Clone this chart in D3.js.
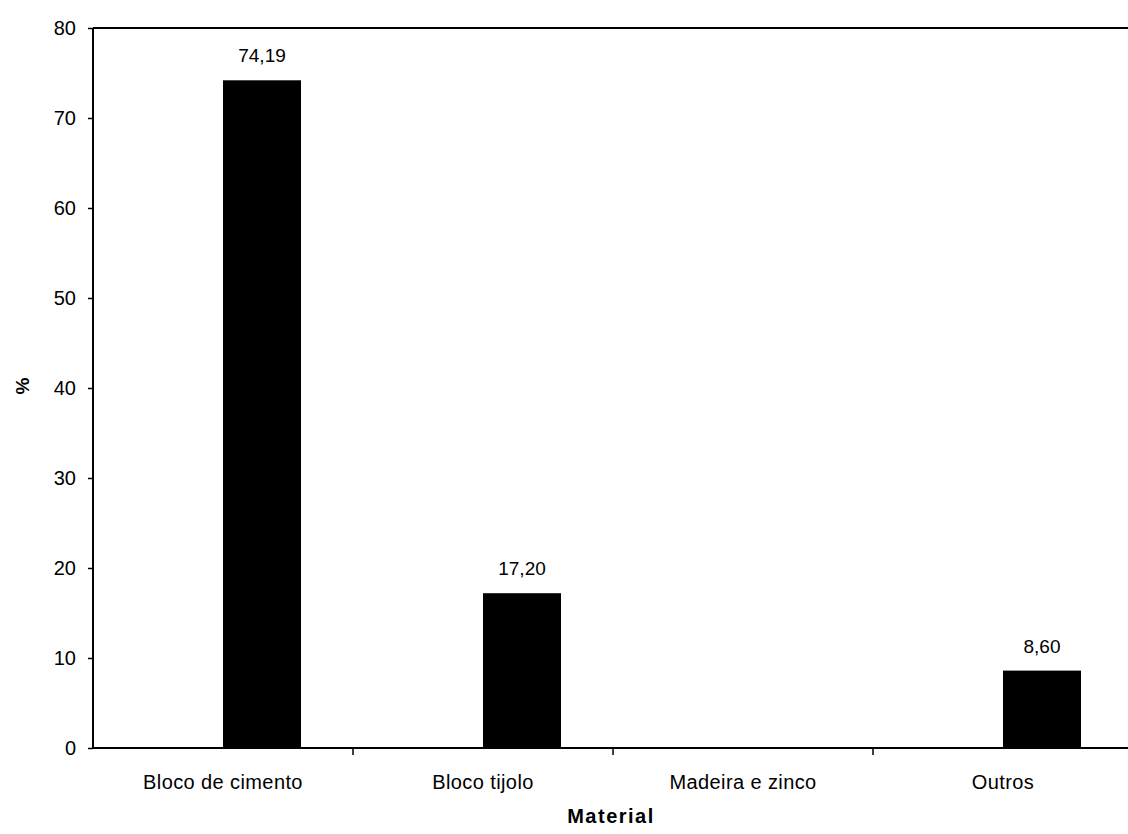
<!DOCTYPE html>
<html>
<head>
<meta charset="utf-8">
<script src="https://cdn.jsdelivr.net/npm/d3@7"></script>
<style>
  html, body { margin: 0; padding: 0; background: #fff; }
  svg { display: block; }
  text { font-family: Arial, "Liberation Sans", sans-serif; fill: #000; }
</style>
</head>
<body>
<svg id="chart" width="1128" height="834"></svg>
<script>
// Material das paredes (%)
const categories = ["Bloco de cimento", "Bloco tijolo", "Madeira e zinco", "Outros"];
const values = [74.19, 17.20, 0, 8.60];
const valueLabels = ["74,19", "17,20", "", "8,60"];
const yTicks = [0, 10, 20, 30, 40, 50, 60, 70, 80];

const svg = d3.select("#chart");
const plotLeft = 93, plotRight = 1133, plotTop = 28, plotBottom = 748;

const x = d3.scaleBand().domain(categories).range([plotLeft, plotRight]).paddingInner(0).paddingOuter(0);
const y = d3.scaleLinear().domain([0, 80]).range([plotBottom, plotTop]);

// bars sit in the right half of a two-slot cluster centred on each category
const barW = x.bandwidth() * 0.3;
const barX = c => x(c) + x.bandwidth() / 2;
const rows = categories.map((c, i) => ({ c, v: values[i], l: valueLabels[i] }));

svg.append("g").selectAll("rect")
  .data(rows)
  .join("rect")
  .attr("x", d => barX(d.c))
  .attr("y", d => y(d.v))
  .attr("width", barW)
  .attr("height", d => plotBottom - y(d.v))
  .attr("fill", "#000");

// value labels
svg.append("g").selectAll("text")
  .data(rows.filter(d => d.l))
  .join("text")
  .attr("x", d => barX(d.c) + barW / 2)
  .attr("y", d => y(d.v) - 18)
  .attr("text-anchor", "middle")
  .attr("font-size", 19)
  .text(d => d.l);

// top frame line
svg.append("line")
  .attr("x1", plotLeft).attr("x2", 1128)
  .attr("y1", plotTop).attr("y2", plotTop)
  .attr("stroke", "#000").attr("stroke-width", 2);

// y axis
const yAxis = svg.append("g")
  .attr("transform", `translate(${plotLeft},0)`)
  .call(d3.axisLeft(y).tickValues(yTicks).tickSize(5).tickPadding(12).tickFormat(d3.format("d")));
yAxis.select(".domain").attr("stroke-width", 2).attr("d", `M0,${plotTop}V${plotBottom}`);
yAxis.selectAll(".tick line").attr("stroke-width", 1.5);
yAxis.selectAll("text").attr("font-size", 20).attr("font-family", "Arial, 'Liberation Sans', sans-serif");

// x axis with ticks at category boundaries
const xAxisG = svg.append("g").attr("transform", `translate(0,${plotBottom})`);
xAxisG.append("line")
  .attr("x1", plotLeft).attr("x2", 1128)
  .attr("stroke", "#000").attr("stroke-width", 2);
xAxisG.selectAll("line.tk")
  .data(categories.slice(1))
  .join("line")
  .attr("class", "tk")
  .attr("x1", d => x(d)).attr("x2", d => x(d))
  .attr("y1", 0).attr("y2", 7)
  .attr("stroke", "#000").attr("stroke-width", 1.5);
xAxisG.selectAll("text")
  .data(categories)
  .join("text")
  .attr("x", d => x(d) + x.bandwidth() / 2)
  .attr("y", 41)
  .attr("text-anchor", "middle")
  .attr("font-size", 20)
  .attr("letter-spacing", 0.4)
  .text(d => d);

// axis titles
svg.append("text")
  .attr("x", 611).attr("y", 823)
  .attr("text-anchor", "middle")
  .attr("font-size", 20).attr("font-weight", "bold")
  .attr("letter-spacing", 1.5)
  .text("Material");

svg.append("text")
  .attr("transform", "translate(29,386) rotate(-90)")
  .attr("text-anchor", "middle")
  .attr("font-size", 19).attr("font-weight", "bold")
  .text("%");
</script>
</body>
</html>
